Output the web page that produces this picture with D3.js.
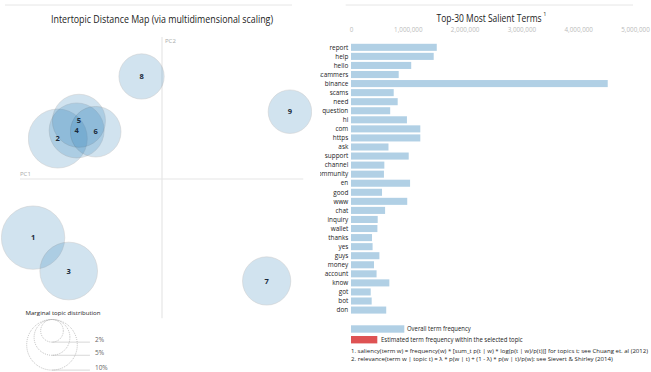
<!DOCTYPE html>
<html>
<head>
<meta charset="utf-8">
<script src="https://cdn.jsdelivr.net/npm/d3@7"></script>
<style>
  body { margin: 0; background: #fff; }
  text { font-family: "Open Sans", sans-serif; }
</style>
</head>
<body>
<script>
// ---- data ----
const topics = ["1", "2", "3", "4", "5", "6", "7", "8", "9"];
const topicPC1 = [-0.908, -0.734, -0.657, -0.601, -0.585, -0.467, 0.737, -0.144, 0.901];
const topicPC2 = [-0.413, 0.285, -0.648, 0.342, 0.41, 0.333, -0.718, 0.722, 0.474];
const topicShare = [15.7, 13.6, 13.0, 11.8, 11.0, 10.0, 9.1, 8.0, 7.4]; // percent of tokens

const terms = ["report", "help", "hello", "scammers", "binance", "scams", "need", "question",
  "hi", "com", "https", "ask", "support", "channel", "community", "en", "good", "www", "chat",
  "inquiry", "wallet", "thanks", "yes", "guys", "money", "account", "know", "got", "bot", "don"];
const termFreq = [1510000, 1456000, 1060000, 840000, 4520000, 752000, 822000, 690000,
  985000, 1220000, 1220000, 660000, 1016000, 587000, 580000, 1040000, 546000, 990000, 600000,
  470000, 465000, 370000, 380000, 500000, 405000, 450000, 675000, 347000, 364000, 620000];
const freqTicks = [0, 1000000, 2000000, 3000000, 4000000, 5000000];
const guideShares = [2, 5, 10];

// ---- layout ----
const W = 651, H = 372;
const svg = d3.select("body").append("svg")
  .attr("width", W)
  .attr("height", H);

const grey = "#e6e6e6";
const blue = "#1f77b4";
const red = "#d62728";

// ============ left panel: intertopic distance map ============
const left = svg.append("g");

left.append("line")
  .attr("x1", 5).attr("x2", 292).attr("y1", 5).attr("y2", 5)
  .attr("stroke", grey);

left.append("text")
  .attr("x", 162).attr("y", 23)
  .attr("text-anchor", "middle")
  .attr("font-size", 10)
  .attr("fill", "#222")
  .attr("textLength", 222).attr("lengthAdjust", "spacingAndGlyphs")
  .text("Intertopic Distance Map (via multidimensional scaling)");

const x = d3.scaleLinear().domain([-1, 1]).range([20, 304]);
const y = d3.scaleLinear().domain([-1, 1]).range([321, 37]);
const r = d3.scaleSqrt().domain([0, 10]).range([0, 25.3]);

// PC axes
left.append("line")
  .attr("x1", x(-1)).attr("x2", x(0.995)).attr("y1", y(0)).attr("y2", y(0))
  .attr("stroke", grey).attr("stroke-width", 1.2);
left.append("line")
  .attr("x1", x(0)).attr("x2", x(0)).attr("y1", y(1)).attr("y2", y(-0.98))
  .attr("stroke", grey).attr("stroke-width", 1.2);
left.append("text")
  .attr("x", x(-1)).attr("y", y(0) - 3)
  .attr("font-size", 6).attr("fill", "#aaa")
  .text("PC1");
left.append("text")
  .attr("x", x(0) + 3).attr("y", y(1) + 6)
  .attr("font-size", 6).attr("fill", "#aaa")
  .text("PC2");

// topic circles
const dots = topics.map((t, i) => ({ t, px: topicPC1[i], py: topicPC2[i], share: topicShare[i] }));

left.selectAll(".dot")
  .data(dots)
  .enter()
  .append("circle")
  .attr("class", "dot")
  .attr("cx", d => x(d.px))
  .attr("cy", d => y(d.py))
  .attr("r", d => r(d.share))
  .attr("fill", blue)
  .attr("stroke", "black")
  .attr("stroke-width", 0.5)
  .attr("opacity", 0.2);

left.selectAll(".lab")
  .data(dots)
  .enter()
  .append("text")
  .attr("class", "lab")
  .attr("x", d => x(d.px))
  .attr("y", d => y(d.py))
  .attr("dy", "0.35em")
  .attr("text-anchor", "middle")
  .attr("font-size", 7.5)
  .attr("font-weight", "bold")
  .attr("fill", "#1a2a3a")
  .text(d => d.t);

// marginal topic distribution guide
const gcx = 52, gtop = 319.5;
const gcx2 = gcx + 1.5 * r(10);
left.append("text")
  .attr("x", 63).attr("y", 314.5)
  .attr("text-anchor", "middle")
  .attr("font-size", 6)
  .attr("fill", "#222")
  .attr("textLength", 75).attr("lengthAdjust", "spacingAndGlyphs")
  .text("Marginal topic distribution");

const guide = left.selectAll(".guide")
  .data(guideShares)
  .enter()
  .append("g")
  .attr("class", "guide");
guide.append("circle")
  .attr("cx", gcx)
  .attr("cy", d => gtop + r(d))
  .attr("r", d => r(d))
  .attr("fill", "none")
  .attr("stroke", "#999")
  .attr("stroke-width", 0.6)
  .attr("stroke-dasharray", "1 1");
guide.append("line")
  .attr("x1", gcx).attr("x2", gcx2)
  .attr("y1", d => gtop + 2 * r(d))
  .attr("y2", d => gtop + 2 * r(d))
  .attr("stroke", "gray")
  .attr("opacity", 0.3);
guide.append("text")
  .attr("x", gcx2 + 5)
  .attr("y", d => gtop + 2 * r(d))
  .attr("font-size", 6.5)
  .attr("fill", "#666")
  .text(d => d + "%");

// ============ right panel: bar chart ============
svg.append("clipPath").attr("id", "rclip")
  .append("rect").attr("x", 320).attr("y", 0).attr("width", W - 320).attr("height", H);
const right = svg.append("g").attr("clip-path", "url(#rclip)");

right.append("line")
  .attr("x1", 345.7).attr("x2", 633).attr("y1", 5).attr("y2", 5)
  .attr("stroke", grey);

const title = right.append("text")
  .attr("x", 436.5).attr("y", 22)
  .attr("font-size", 10)
  .attr("fill", "#222");
title.append("tspan")
  .attr("textLength", 105).attr("lengthAdjust", "spacingAndGlyphs")
  .text("Top-30 Most Salient Terms");
title.append("tspan")
  .attr("dx", 1.8).attr("dy", -6)
  .attr("font-size", 5.5)
  .text("1");

const bx = d3.scaleLinear().domain([0, 5000000]).range([351, 635]);
const by = d3.scaleBand().domain(terms).range([42.8, 314.6])
  .paddingInner(0.22).paddingOuter(0.11);

// top axis
const ax = right.append("g")
  .attr("transform", "translate(0,35)")
  .call(d3.axisTop(bx).tickValues(freqTicks).tickSize(0).tickFormat(d3.format(",")));
ax.select(".domain").remove();
ax.selectAll("text")
  .attr("font-family", "Open Sans, sans-serif")
  .attr("font-size", 6.3)
  .attr("fill", "#bbb");

const bars = terms.map((t, i) => ({ t, f: termFreq[i] }));

right.selectAll(".bar")
  .data(bars)
  .enter()
  .append("rect")
  .attr("class", "bar")
  .attr("x", bx(0))
  .attr("y", d => by(d.t))
  .attr("width", d => bx(d.f) - bx(0))
  .attr("height", by.bandwidth())
  .attr("fill", blue)
  .attr("opacity", 0.35);

right.selectAll(".term")
  .data(bars)
  .enter()
  .append("text")
  .attr("class", "term")
  .attr("x", bx(0) - 2.7)
  .attr("y", d => by(d.t) + by.bandwidth() / 2)
  .attr("dy", "0.35em")
  .attr("text-anchor", "end")
  .attr("font-size", 6.4)
  .attr("fill", "#222")
  .text(d => d.t);

// legend
right.append("rect")
  .attr("x", 351).attr("y", 325.3).attr("width", 53.3).attr("height", 7.4)
  .attr("fill", blue).attr("opacity", 0.35);
right.append("text")
  .attr("x", 407).attr("y", 329).attr("dy", "0.35em")
  .attr("font-size", 6.5).attr("fill", "#222")
  .attr("textLength", 63.7).attr("lengthAdjust", "spacingAndGlyphs")
  .text("Overall term frequency");
right.append("rect")
  .attr("x", 351).attr("y", 336).attr("width", 26.3).attr("height", 7.4)
  .attr("fill", red).attr("opacity", 0.8);
right.append("text")
  .attr("x", 381).attr("y", 339.7).attr("dy", "0.35em")
  .attr("font-size", 6.5).attr("fill", "#222")
  .attr("textLength", 141.7).attr("lengthAdjust", "spacingAndGlyphs")
  .text("Estimated term frequency within the selected topic");

right.append("text")
  .attr("x", 351).attr("y", 351.3).attr("dy", "0.35em")
  .attr("font-size", 6).attr("fill", "#222")
  .attr("textLength", 297).attr("lengthAdjust", "spacingAndGlyphs")
  .text("1. saliency(term w) = frequency(w) * [sum_t p(t | w) * log(p(t | w)/p(t))] for topics t; see Chuang et. al (2012)");
right.append("text")
  .attr("x", 351).attr("y", 359).attr("dy", "0.35em")
  .attr("font-size", 6).attr("fill", "#222")
  .attr("textLength", 261.7).attr("lengthAdjust", "spacingAndGlyphs")
  .text("2. relevance(term w | topic t) = \u03bb * p(w | t) + (1 - \u03bb) * p(w | t)/p(w); see Sievert & Shirley (2014)");
</script>
</body>
</html>
